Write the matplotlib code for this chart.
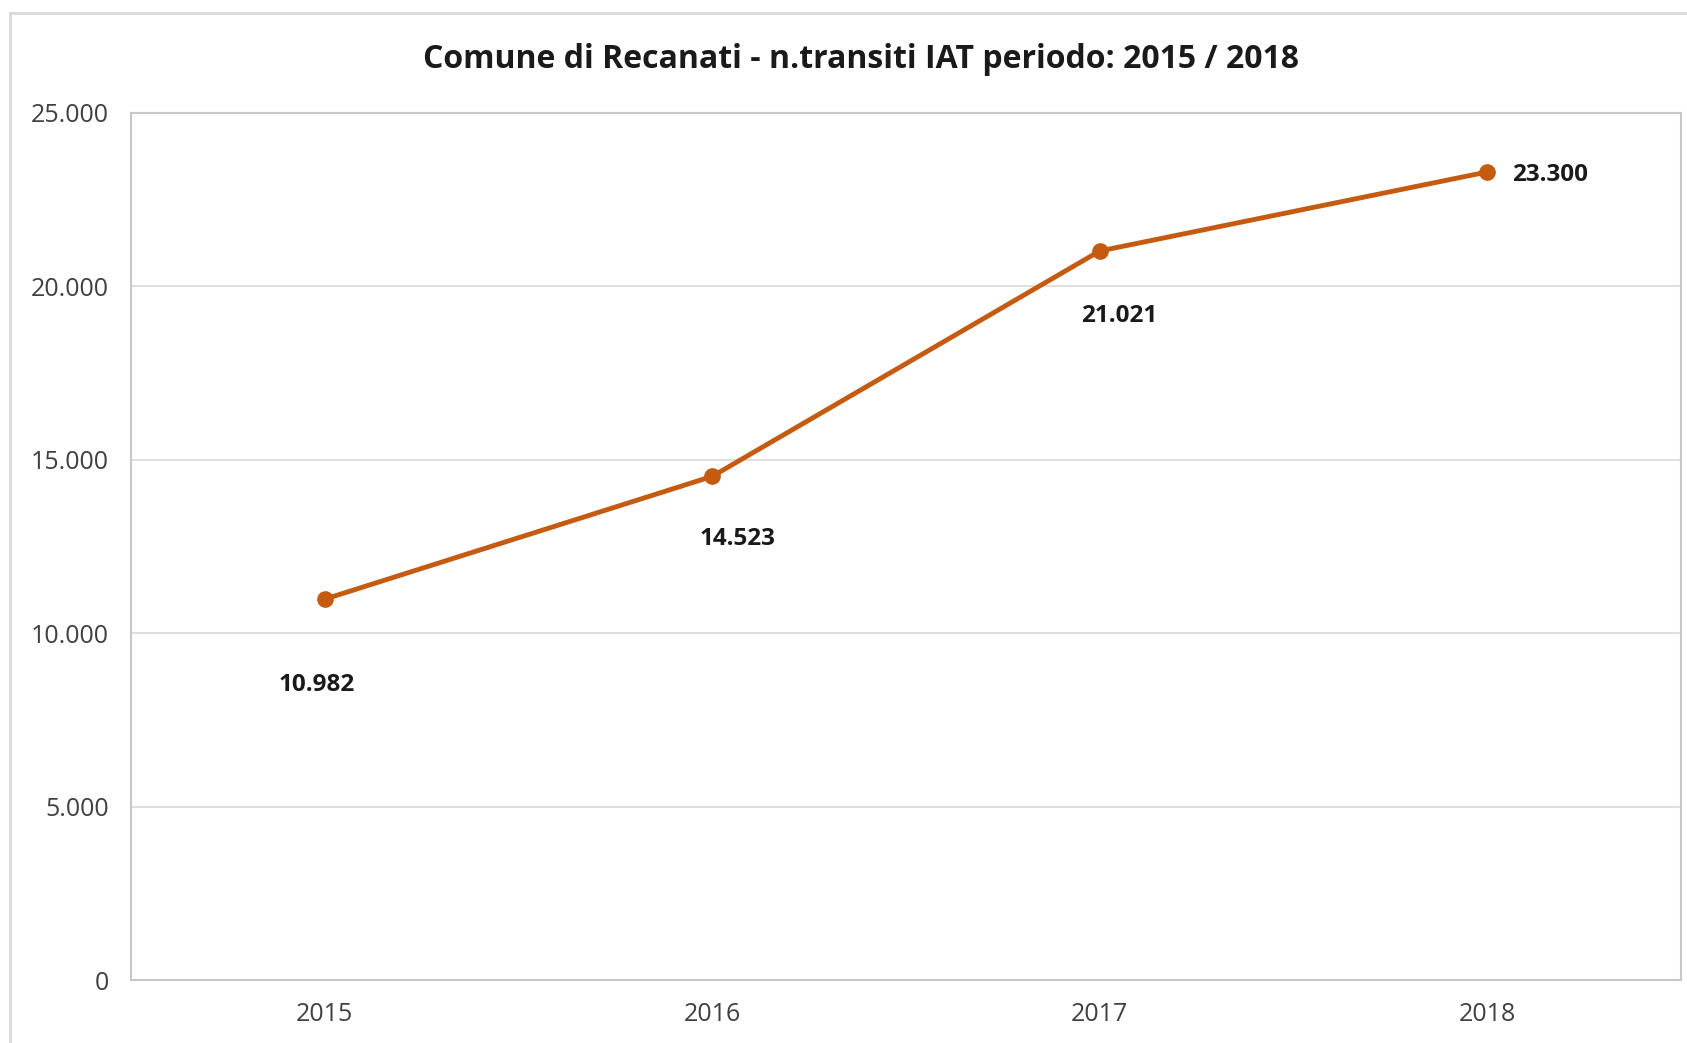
import matplotlib.pyplot as plt
from matplotlib.lines import Line2D

years = ["2015", "2016", "2017", "2018"]
transiti = [10982, 14523, 21021, 23300]
value_labels = ["10.982", "14.523", "21.021", "23.300"]
y_ticks = [0, 5000, 10000, 15000, 20000, 25000]
y_tick_labels = ["0", "5.000", "10.000", "15.000", "20.000", "25.000"]

# label offsets in points (dx, dy)
label_offsets = [(-6, -62), (18, -45), (14, -47), (45, -2)]

W, H = 1687, 1043
plt.rcParams['font.family'] = ['Open Sans', 'DejaVu Sans']
fig = plt.figure(figsize=(W / 100, H / 100), dpi=100)

# outer chart border (cropped: only left and top visible)
fig.add_artist(Line2D([10 / W, 10 / W], [0, 1 - 13 / H], color="#d9d9d9", lw=2))
fig.add_artist(Line2D([10 / W, 1], [1 - 13 / H, 1 - 13 / H], color="#d9d9d9", lw=2))

ax = fig.add_axes([131 / W, 1 - 980 / H, 1550 / W, 867 / H])
x = range(len(years))
color = "#C55A11"
ax.plot(x, transiti, color=color, lw=3.5, marker="o", markersize=11, zorder=3)

for i, (v, lab) in enumerate(zip(transiti, value_labels)):
    dx, dy = label_offsets[i]
    ax.annotate(lab, (i, v), xytext=(dx, dy), textcoords="offset points",
                ha="center", va="center", fontsize=17.5, fontweight="bold", color="#1a1a1a")

ax.set_xlim(-0.5, 3.5)
ax.set_ylim(0, 25000)
ax.set_xticks(list(x))
ax.set_xticklabels(years)
ax.set_yticks(y_ticks)
ax.set_yticklabels(y_tick_labels)
ax.tick_params(length=0, labelsize=18, labelcolor="#404040")
ax.tick_params(axis="y", pad=16)
ax.tick_params(axis="x", pad=16)
ax.grid(axis="y", color="#d9d9d9", lw=1.2)
ax.set_axisbelow(True)
for s in ax.spines.values():
    s.set_color("#c8c8c8")
    s.set_linewidth(1.5)

fig.text(861 / W, 1 - 60 / H, "Comune di Recanati - n.transiti IAT periodo: 2015 / 2018",
         ha="center", va="center", fontsize=23, fontweight="bold", color="#1a1a1a")

fig.savefig("out.png", dpi=100, facecolor="white")
